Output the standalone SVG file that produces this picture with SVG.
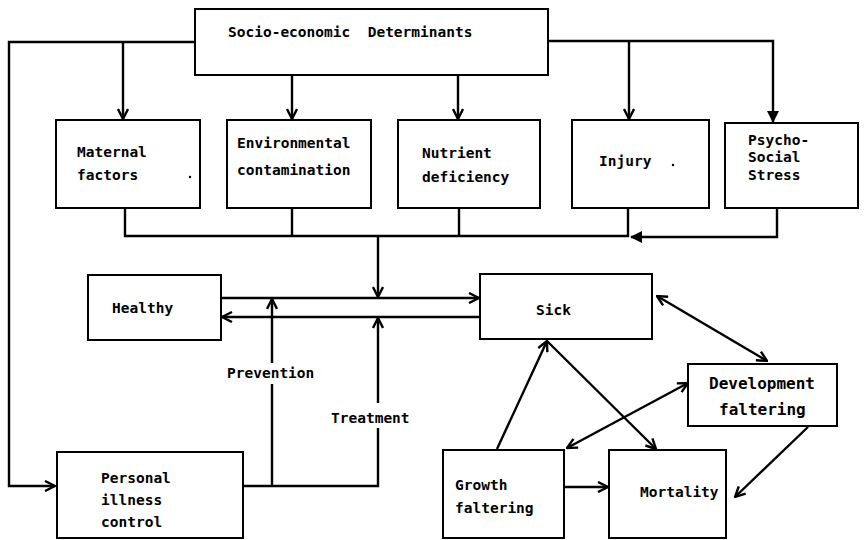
<svg xmlns="http://www.w3.org/2000/svg" width="865" height="540" viewBox="0 0 865 540">
<defs>
<marker id="op" viewBox="0 0 12 12" refX="11" refY="6" markerWidth="12" markerHeight="12" markerUnits="userSpaceOnUse" orient="auto-start-reverse">
<path d="M1,1 L11,6 L1,11" fill="none" stroke="#000" stroke-width="2.4"/>
</marker>
<marker id="fl" viewBox="0 0 12 12" refX="11" refY="6" markerWidth="12" markerHeight="12" markerUnits="userSpaceOnUse" orient="auto">
<path d="M0,0 L12,6 L0,12 z" fill="#000"/>
</marker>
<style>
rect{fill:#fff;stroke:#000;stroke-width:2}
text{font-family:"DejaVu Sans Mono","Liberation Mono",monospace;font-size:14.5px;font-weight:bold;fill:#000}
.c line,.c polyline,.c path{fill:none;stroke:#000;stroke-width:2.4}
.big{font-size:16px}
</style>
</defs>
<g class="c" id="connectors">
<polyline points="195,42 9,42 9,486 55,486" marker-end="url(#op)"/>
<line x1="123" y1="42" x2="123" y2="119" marker-end="url(#op)"/>
<line x1="292" y1="75" x2="292" y2="119" marker-end="url(#op)"/>
<line x1="458" y1="75" x2="458" y2="119" marker-end="url(#op)"/>
<polyline points="548,41 773,41 773,122" marker-end="url(#fl)"/>
<line x1="629" y1="41" x2="629" y2="119" marker-end="url(#op)"/>
<polyline points="125,208 125,236 629,236"/>
<line x1="628" y1="208" x2="628" y2="237"/>
<line x1="292" y1="208" x2="292" y2="236"/>
<line x1="459" y1="208" x2="459" y2="236"/>
<polyline points="777,208 777,237 631,237" marker-end="url(#fl)"/>
<line x1="378" y1="236" x2="378" y2="297" marker-end="url(#op)"/>
<line x1="221" y1="298" x2="479" y2="298" marker-end="url(#op)"/>
<line x1="480" y1="317" x2="222" y2="317" marker-end="url(#op)"/>
<polyline points="243,486 378,486 378,428"/>
<line x1="378" y1="403" x2="378" y2="318" marker-end="url(#op)"/>
<line x1="272" y1="486" x2="272" y2="384"/>
<line x1="272" y1="363" x2="272" y2="299" marker-end="url(#op)"/>
<line x1="657" y1="296" x2="767" y2="361" marker-start="url(#op)" marker-end="url(#op)"/>
<line x1="497" y1="449" x2="547" y2="341" marker-end="url(#op)"/>
<line x1="547" y1="341" x2="656" y2="449" marker-end="url(#op)"/>
<line x1="567" y1="448" x2="688" y2="383" marker-start="url(#op)" marker-end="url(#op)"/>
<line x1="564" y1="487" x2="608" y2="487" marker-end="url(#op)"/>
<line x1="808" y1="427" x2="735" y2="497" marker-end="url(#op)"/>
</g>
<g id="socio"><rect x="195" y="9" width="353" height="66"/><text x="228" y="37" xml:space="preserve">Socio-economic  Determinants</text></g>
<g id="maternal"><rect x="56" y="120" width="144" height="88"/><text x="77" y="157">Maternal</text><text x="77" y="180">factors</text><circle cx="190" cy="177" r="1.2"/></g>
<g id="environmental"><rect x="227" y="120" width="144" height="88"/><text x="237" y="148">Environmental</text><text x="237" y="175">contamination</text></g>
<g id="nutrient"><rect x="398" y="120" width="142" height="88"/><text x="422" y="158">Nutrient</text><text x="422" y="182">deficiency</text></g>
<g id="injury"><rect x="572" y="120" width="137" height="88"/><text x="599" y="166">Injury</text><circle cx="673" cy="165" r="1.2"/></g>
<g id="psycho"><rect x="725" y="123" width="133" height="85"/><text x="748" y="145">Psycho-</text><text x="748" y="162">Social</text><text x="748" y="180">Stress</text></g>
<g id="healthy"><rect x="88" y="275" width="133" height="65"/><text x="112" y="313">Healthy</text></g>
<g id="sick"><rect x="480" y="274" width="172" height="65"/><text x="536" y="315">Sick</text></g>
<g id="development"><rect x="688" y="364" width="149" height="62"/><text class="big" x="709" y="389">Development</text><text class="big" x="719" y="415">faltering</text></g>
<g id="personal"><rect x="57" y="452" width="186" height="86"/><text x="101" y="483">Personal</text><text x="101" y="505">illness</text><text x="101" y="527">control</text></g>
<g id="growth"><rect x="443" y="450" width="121" height="88"/><text x="455" y="490">Growth</text><text x="455" y="513">faltering</text></g>
<g id="mortality"><rect x="609" y="450" width="117" height="88"/><text x="640" y="497">Mortality</text></g>
<g id="labels"><text x="227" y="378">Prevention</text><text x="331" y="423">Treatment</text></g>
</svg>
